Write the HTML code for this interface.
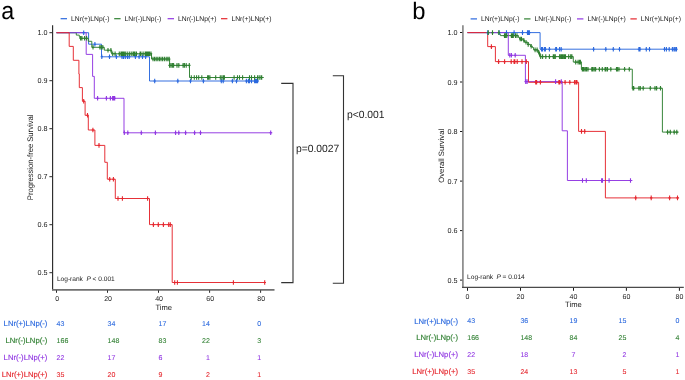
<!DOCTYPE html>
<html><head><meta charset="utf-8"><style>
html,body{margin:0;padding:0;background:#fff;}
body{width:685px;height:380px;overflow:hidden;}
svg{display:block;font-family:"Liberation Sans", sans-serif;will-change:transform;text-rendering:geometricPrecision;}
</style></head><body>
<svg width="685" height="380" viewBox="0 0 685 380">
<rect width="685" height="380" fill="#fff"/>
<text x="0" y="0" font-size="24.5" fill="#000" transform="translate(1.2,18.8) scale(0.95,1)">a</text>
<line x1="60.6" y1="18.7" x2="67.0" y2="18.7" stroke="#2a68de" stroke-width="1.2"/>
<text x="71.0" y="21.2" font-size="6.75" fill="#1a1a1a" text-anchor="start" >LNr(+)LNp(-)</text>
<line x1="114.2" y1="18.7" x2="120.6" y2="18.7" stroke="#2e7f30" stroke-width="1.2"/>
<text x="124.6" y="21.2" font-size="6.75" fill="#1a1a1a" text-anchor="start" >LNr(-)LNp(-)</text>
<line x1="167.6" y1="18.7" x2="174.0" y2="18.7" stroke="#9036e2" stroke-width="1.2"/>
<text x="178.0" y="21.2" font-size="6.75" fill="#1a1a1a" text-anchor="start" >LNr(-)LNp(+)</text>
<line x1="221.0" y1="18.7" x2="227.4" y2="18.7" stroke="#e5262d" stroke-width="1.2"/>
<text x="231.4" y="21.2" font-size="6.75" fill="#1a1a1a" text-anchor="start" >LNr(+)LNp(+)</text>
<line x1="52.6" y1="25.3" x2="52.6" y2="290.3" stroke="#2a2a2a" stroke-width="1.15"/>
<line x1="52.0" y1="289.8" x2="274.5" y2="289.8" stroke="#707070" stroke-width="1.7"/>
<line x1="49.4" y1="32.7" x2="52.2" y2="32.7" stroke="#2a2a2a" stroke-width="1"/>
<text x="47.6" y="35.3" font-size="7.2" fill="#1a1a1a" text-anchor="end" >1.0</text>
<line x1="49.4" y1="80.7" x2="52.2" y2="80.7" stroke="#2a2a2a" stroke-width="1"/>
<text x="47.6" y="83.3" font-size="7.2" fill="#1a1a1a" text-anchor="end" >0.9</text>
<line x1="49.4" y1="128.7" x2="52.2" y2="128.7" stroke="#2a2a2a" stroke-width="1"/>
<text x="47.6" y="131.3" font-size="7.2" fill="#1a1a1a" text-anchor="end" >0.8</text>
<line x1="49.4" y1="176.7" x2="52.2" y2="176.7" stroke="#2a2a2a" stroke-width="1"/>
<text x="47.6" y="179.3" font-size="7.2" fill="#1a1a1a" text-anchor="end" >0.7</text>
<line x1="49.4" y1="224.7" x2="52.2" y2="224.7" stroke="#2a2a2a" stroke-width="1"/>
<text x="47.6" y="227.3" font-size="7.2" fill="#1a1a1a" text-anchor="end" >0.6</text>
<line x1="49.4" y1="272.7" x2="52.2" y2="272.7" stroke="#2a2a2a" stroke-width="1"/>
<text x="47.6" y="275.3" font-size="7.2" fill="#1a1a1a" text-anchor="end" >0.5</text>
<line x1="56.5" y1="290.3" x2="56.5" y2="292.8" stroke="#2a2a2a" stroke-width="1"/>
<text x="57.1" y="301.1" font-size="7.0" fill="#1a1a1a" text-anchor="middle" >0</text>
<line x1="107.5" y1="290.3" x2="107.5" y2="292.8" stroke="#2a2a2a" stroke-width="1"/>
<text x="108.1" y="301.1" font-size="7.0" fill="#1a1a1a" text-anchor="middle" >20</text>
<line x1="158.5" y1="290.3" x2="158.5" y2="292.8" stroke="#2a2a2a" stroke-width="1"/>
<text x="159.1" y="301.1" font-size="7.0" fill="#1a1a1a" text-anchor="middle" >40</text>
<line x1="209.6" y1="290.3" x2="209.6" y2="292.8" stroke="#2a2a2a" stroke-width="1"/>
<text x="210.2" y="301.1" font-size="7.0" fill="#1a1a1a" text-anchor="middle" >60</text>
<line x1="260.6" y1="290.3" x2="260.6" y2="292.8" stroke="#2a2a2a" stroke-width="1"/>
<text x="261.2" y="301.1" font-size="7.0" fill="#1a1a1a" text-anchor="middle" >80</text>
<text x="163.7" y="310.0" font-size="7.6" fill="#1a1a1a" text-anchor="middle" >Time</text>
<text x="0" y="0" font-size="8.0" fill="#1a1a1a" text-anchor="middle" textLength="85.6" lengthAdjust="spacingAndGlyphs" transform="translate(33.1,157.4) rotate(-90)">Progression-free Survival</text>
<text x="56.9" y="281.0" font-size="6.6" fill="#1a1a1a">Log-rank<tspan x="86.4" font-style="italic">P</tspan><tspan x="92.6">&lt; 0.001</tspan></text>
<path d="M281.2,83.4H293V282.6H281.2" fill="none" stroke="#333" stroke-width="1.1"/>
<path d="M332.8,75.7H343.5V283.2H332.8" fill="none" stroke="#333" stroke-width="1.1"/>
<text x="295.9" y="152.3" font-size="10.5" fill="#1a1a1a" text-anchor="start" textLength="43.4" lengthAdjust="spacingAndGlyphs">p=0.0027</text>
<text x="346.9" y="117.8" font-size="10.5" fill="#1a1a1a" text-anchor="start" textLength="37.7" lengthAdjust="spacingAndGlyphs">p&lt;0.001</text>
<path d="M56.5,32.7 L88.6,32.7 L88.6,44.2 L101.5,44.2 L101.5,56.8 L149.5,56.8 L149.5,81.0 L258.6,81.0" fill="none" stroke="#2a68de" stroke-width="0.95"/>
<path d="M56.5,32.7 L76.3,32.7 L76.3,35.1 L79.3,35.1 L79.3,36.7 L79.9,36.7 L79.9,38.3 L88.3,38.3 L88.3,41.3 L91.8,41.3 L91.8,47.3 L104.3,47.3 L104.3,50.2 L111.6,50.2 L111.6,53.8 L151.5,53.8 L151.5,59.0 L169.6,59.0 L169.6,65.4 L189.5,65.4 L189.5,77.5 L263.8,77.5" fill="none" stroke="#2e7f30" stroke-width="0.95"/>
<path d="M56.5,32.7 L86.2,32.7 L86.2,54.4 L92.6,54.4 L92.6,76.4 L94.3,76.4 L94.3,98.3 L124.0,98.3 L124.0,132.8 L272.3,132.8" fill="none" stroke="#9036e2" stroke-width="0.95"/>
<path d="M56.5,32.7 L69.2,32.7 L69.2,46.4 L73.3,46.4 L73.3,60.3 L78.9,60.3 L78.9,74.0 L79.3,74.0 L79.3,87.6 L82.4,87.6 L82.4,101.2 L85.1,101.2 L85.1,115.3 L88.3,115.3 L88.3,130.0 L94.9,130.0 L94.9,145.4 L104.8,145.4 L104.8,162.3 L107.3,162.3 L107.3,179.2 L115.3,179.2 L115.3,198.5 L149.5,198.5 L149.5,224.6 L172.2,224.6 L172.2,282.5 L265.5,282.5" fill="none" stroke="#e5262d" stroke-width="0.95"/>
<path d="M83.7,30.4V35.0M82.5,32.7H84.9M94.9,41.9V46.5M93.7,44.2H96.1M101.8,54.5V59.1M100.6,56.8H103.0M109.5,54.5V59.1M108.3,56.8H110.7M116.4,54.5V59.1M115.2,56.8H117.6M122.0,54.5V59.1M120.8,56.8H123.2M123.5,54.5V59.1M122.3,56.8H124.7M125.3,54.5V59.1M124.1,56.8H126.5M127.5,54.5V59.1M126.3,56.8H128.7M129.2,54.5V59.1M128.0,56.8H130.4M135.4,54.5V59.1M134.2,56.8H136.6M139.1,54.5V59.1M137.9,56.8H140.3M142.5,54.5V59.1M141.3,56.8H143.7M145.6,54.5V59.1M144.4,56.8H146.8M154.7,78.7V83.3M153.5,81.0H155.9M177.8,78.7V83.3M176.6,81.0H179.0M190.5,78.7V83.3M189.3,81.0H191.7M203.4,78.7V83.3M202.2,81.0H204.6M221.3,78.7V83.3M220.1,81.0H222.5M223.2,78.7V83.3M222.0,81.0H224.4M232.4,78.7V83.3M231.2,81.0H233.6M236.5,78.7V83.3M235.3,81.0H237.7M246.4,78.7V83.3M245.2,81.0H247.6M248.4,78.7V83.3M247.2,81.0H249.6M249.5,78.7V83.3M248.3,81.0H250.7M251.5,78.7V83.3M250.3,81.0H252.7M254.6,78.7V83.3M253.4,81.0H255.8M255.6,78.7V83.3M254.4,81.0H256.8M256.6,78.7V83.3M255.4,81.0H257.8M257.6,78.7V83.3M256.4,81.0H258.8" fill="none" stroke="#2a68de" stroke-width="1.1"/>
<path d="M80.6,36.0V40.6M79.4,38.3H81.8M81.9,36.0V40.6M80.7,38.3H83.1M84.6,36.0V40.6M83.4,38.3H85.8M86.6,36.0V40.6M85.4,38.3H87.8M93.0,45.0V49.6M91.8,47.3H94.2M99.9,45.0V49.6M98.7,47.3H101.1M101.3,45.0V49.6M100.1,47.3H102.5M102.8,45.0V49.6M101.6,47.3H104.0M108.0,47.9V52.5M106.8,50.2H109.2M110.9,47.9V52.5M109.7,50.2H112.1M112.7,51.5V56.1M111.5,53.8H113.9M115.1,51.5V56.1M113.9,53.8H116.3M119.3,51.5V56.1M118.1,53.8H120.5M121.0,51.5V56.1M119.8,53.8H122.2M122.0,51.5V56.1M120.8,53.8H123.2M123.0,51.5V56.1M121.8,53.8H124.2M124.1,51.5V56.1M122.9,53.8H125.3M125.3,51.5V56.1M124.1,53.8H126.5M127.2,51.5V56.1M126.0,53.8H128.4M129.3,51.5V56.1M128.1,53.8H130.5M131.2,51.5V56.1M130.0,53.8H132.4M133.0,51.5V56.1M131.8,53.8H134.2M134.0,51.5V56.1M132.8,53.8H135.2M135.0,51.5V56.1M133.8,53.8H136.2M136.5,51.5V56.1M135.3,53.8H137.7M140.1,51.5V56.1M138.9,53.8H141.3M140.9,51.5V56.1M139.7,53.8H142.1M143.1,51.5V56.1M141.9,53.8H144.3M145.2,51.5V56.1M144.0,53.8H146.4M146.3,51.5V56.1M145.1,53.8H147.5M147.4,51.5V56.1M146.2,53.8H148.6M148.5,51.5V56.1M147.3,53.8H149.7M149.6,51.5V56.1M148.4,53.8H150.8M151.0,51.5V56.1M149.8,53.8H152.2M153.0,56.7V61.3M151.8,59.0H154.2M154.6,56.7V61.3M153.4,59.0H155.8M156.2,56.7V61.3M155.0,59.0H157.4M157.8,56.7V61.3M156.6,59.0H159.0M159.4,56.7V61.3M158.2,59.0H160.6M161.0,56.7V61.3M159.8,59.0H162.2M162.6,56.7V61.3M161.4,59.0H163.8M164.4,56.7V61.3M163.2,59.0H165.6M166.2,56.7V61.3M165.0,59.0H167.4M167.8,56.7V61.3M166.6,59.0H169.0M169.2,56.7V61.3M168.0,59.0H170.4M169.6,63.1V67.7M168.4,65.4H170.8M171.0,63.1V67.7M169.8,65.4H172.2M172.4,63.1V67.7M171.2,65.4H173.6M173.6,63.1V67.7M172.4,65.4H174.8M177.0,63.1V67.7M175.8,65.4H178.2M178.8,63.1V67.7M177.6,65.4H180.0M183.1,63.1V67.7M181.9,65.4H184.3M184.4,63.1V67.7M183.2,65.4H185.6M186.2,63.1V67.7M185.0,65.4H187.4M189.3,63.1V67.7M188.1,65.4H190.5M191.3,75.2V79.8M190.1,77.5H192.5M194.3,75.2V79.8M193.1,77.5H195.5M196.6,75.2V79.8M195.4,77.5H197.8M198.7,75.2V79.8M197.5,77.5H199.9M201.8,75.2V79.8M200.6,77.5H203.0M207.6,75.2V79.8M206.4,77.5H208.8M208.6,75.2V79.8M207.4,77.5H209.8M209.9,75.2V79.8M208.7,77.5H211.1M215.7,75.2V79.8M214.5,77.5H216.9M220.3,75.2V79.8M219.1,77.5H221.5M221.9,75.2V79.8M220.7,77.5H223.1M223.4,75.2V79.8M222.2,77.5H224.6M224.4,75.2V79.8M223.2,77.5H225.6M234.1,75.2V79.8M232.9,77.5H235.3M237.5,75.2V79.8M236.3,77.5H238.7M239.5,75.2V79.8M238.3,77.5H240.7M242.6,75.2V79.8M241.4,77.5H243.8M249.5,75.2V79.8M248.3,77.5H250.7M251.5,75.2V79.8M250.3,77.5H252.7M254.6,75.2V79.8M253.4,77.5H255.8M257.6,75.2V79.8M256.4,77.5H258.8M259.2,75.2V79.8M258.0,77.5H260.4M261.0,75.2V79.8M259.8,77.5H262.2M261.7,75.2V79.8M260.5,77.5H262.9" fill="none" stroke="#2e7f30" stroke-width="1.1"/>
<path d="M97.6,96.0V100.6M96.4,98.3H98.8M106.4,96.0V100.6M105.2,98.3H107.6M110.4,96.0V100.6M109.2,98.3H111.6M112.6,96.0V100.6M111.4,98.3H113.8M113.7,96.0V100.6M112.5,98.3H114.9M114.7,96.0V100.6M113.5,98.3H115.9M124.3,130.5V135.1M123.1,132.8H125.5M127.8,130.5V135.1M126.6,132.8H129.0M141.3,130.5V135.1M140.1,132.8H142.5M155.4,130.5V135.1M154.2,132.8H156.6M175.6,130.5V135.1M174.4,132.8H176.8M178.8,130.5V135.1M177.6,132.8H180.0M185.6,130.5V135.1M184.4,132.8H186.8M194.6,130.5V135.1M193.4,132.8H195.8M200.5,130.5V135.1M199.3,132.8H201.7M270.7,130.5V135.1M269.5,132.8H271.9" fill="none" stroke="#9036e2" stroke-width="1.1"/>
<path d="M83.7,98.9V103.5M82.5,101.2H84.9M87.5,113.0V117.6M86.3,115.3H88.7M92.9,127.7V132.3M91.7,130.0H94.1M99.0,143.1V147.7M97.8,145.4H100.2M109.7,176.9V181.5M108.5,179.2H110.9M113.4,176.9V181.5M112.2,179.2H114.6M118.0,196.2V200.8M116.8,198.5H119.2M122.4,196.2V200.8M121.2,198.5H123.6M147.6,196.2V200.8M146.4,198.5H148.8M153.4,222.3V226.9M152.2,224.6H154.6M158.3,222.3V226.9M157.1,224.6H159.5M163.4,222.3V226.9M162.2,224.6H164.6M168.7,222.3V226.9M167.5,224.6H169.9M170.3,222.3V226.9M169.1,224.6H171.5M174.7,280.2V284.8M173.5,282.5H175.9M177.4,280.2V284.8M176.2,282.5H178.6M233.4,280.2V284.8M232.2,282.5H234.6M264.7,280.2V284.8M263.5,282.5H265.9" fill="none" stroke="#e5262d" stroke-width="1.1"/>
<text x="47.4" y="326.2" font-size="7.7" fill="#2a68de" stroke="#2a68de" stroke-width="0.15" text-anchor="end" >LNr(+)LNp(-)</text>
<text x="56.6" y="325.9" font-size="7.0" fill="#2a68de" stroke="#2a68de" stroke-width="0.08" text-anchor="start" >43</text>
<text x="107.6" y="325.9" font-size="7.0" fill="#2a68de" stroke="#2a68de" stroke-width="0.08" text-anchor="start" >34</text>
<text x="158.5" y="325.9" font-size="7.0" fill="#2a68de" stroke="#2a68de" stroke-width="0.08" text-anchor="start" >17</text>
<text x="209.9" y="325.9" font-size="7.0" fill="#2a68de" stroke="#2a68de" stroke-width="0.08" text-anchor="end" >14</text>
<text x="261.1" y="325.9" font-size="7.0" fill="#2a68de" stroke="#2a68de" stroke-width="0.08" text-anchor="end" >0</text>
<text x="47.4" y="343.1" font-size="7.7" fill="#2e7f30" stroke="#2e7f30" stroke-width="0.15" text-anchor="end" >LNr(-)LNp(-)</text>
<text x="56.6" y="342.8" font-size="7.0" fill="#2e7f30" stroke="#2e7f30" stroke-width="0.08" text-anchor="start" >166</text>
<text x="107.6" y="342.8" font-size="7.0" fill="#2e7f30" stroke="#2e7f30" stroke-width="0.08" text-anchor="start" >148</text>
<text x="158.5" y="342.8" font-size="7.0" fill="#2e7f30" stroke="#2e7f30" stroke-width="0.08" text-anchor="start" >83</text>
<text x="209.9" y="342.8" font-size="7.0" fill="#2e7f30" stroke="#2e7f30" stroke-width="0.08" text-anchor="end" >22</text>
<text x="261.1" y="342.8" font-size="7.0" fill="#2e7f30" stroke="#2e7f30" stroke-width="0.08" text-anchor="end" >3</text>
<text x="47.4" y="359.9" font-size="7.7" fill="#9036e2" stroke="#9036e2" stroke-width="0.15" text-anchor="end" >LNr(-)LNp(+)</text>
<text x="56.6" y="359.6" font-size="7.0" fill="#9036e2" stroke="#9036e2" stroke-width="0.08" text-anchor="start" >22</text>
<text x="107.6" y="359.6" font-size="7.0" fill="#9036e2" stroke="#9036e2" stroke-width="0.08" text-anchor="start" >17</text>
<text x="158.5" y="359.6" font-size="7.0" fill="#9036e2" stroke="#9036e2" stroke-width="0.08" text-anchor="start" >6</text>
<text x="209.9" y="359.6" font-size="7.0" fill="#9036e2" stroke="#9036e2" stroke-width="0.08" text-anchor="end" >1</text>
<text x="261.1" y="359.6" font-size="7.0" fill="#9036e2" stroke="#9036e2" stroke-width="0.08" text-anchor="end" >1</text>
<text x="47.4" y="376.8" font-size="7.7" fill="#e5262d" stroke="#e5262d" stroke-width="0.15" text-anchor="end" >LNr(+)LNp(+)</text>
<text x="56.6" y="376.5" font-size="7.0" fill="#e5262d" stroke="#e5262d" stroke-width="0.08" text-anchor="start" >35</text>
<text x="107.6" y="376.5" font-size="7.0" fill="#e5262d" stroke="#e5262d" stroke-width="0.08" text-anchor="start" >20</text>
<text x="158.5" y="376.5" font-size="7.0" fill="#e5262d" stroke="#e5262d" stroke-width="0.08" text-anchor="start" >9</text>
<text x="209.9" y="376.5" font-size="7.0" fill="#e5262d" stroke="#e5262d" stroke-width="0.08" text-anchor="end" >2</text>
<text x="261.1" y="376.5" font-size="7.0" fill="#e5262d" stroke="#e5262d" stroke-width="0.08" text-anchor="end" >1</text>
<text x="412.2" y="18.8" font-size="23.8" fill="#000" text-anchor="start" >b</text>
<line x1="470.6" y1="18.9" x2="477.0" y2="18.9" stroke="#2a68de" stroke-width="1.2"/>
<text x="481.0" y="21.4" font-size="6.75" fill="#1a1a1a" text-anchor="start" >LNr(+)LNp(-)</text>
<line x1="524.1" y1="18.9" x2="530.5" y2="18.9" stroke="#2e7f30" stroke-width="1.2"/>
<text x="534.5" y="21.4" font-size="6.75" fill="#1a1a1a" text-anchor="start" >LNr(-)LNp(-)</text>
<line x1="577.0" y1="18.9" x2="583.4" y2="18.9" stroke="#9036e2" stroke-width="1.2"/>
<text x="587.4" y="21.4" font-size="6.75" fill="#1a1a1a" text-anchor="start" >LNr(-)LNp(+)</text>
<line x1="630.4" y1="18.9" x2="636.8" y2="18.9" stroke="#e5262d" stroke-width="1.2"/>
<text x="640.8" y="21.4" font-size="6.75" fill="#1a1a1a" text-anchor="start" >LNr(+)LNp(+)</text>
<line x1="462.9" y1="25.2" x2="462.9" y2="288.0" stroke="#8a8a8a" stroke-width="1.7"/>
<line x1="462.0" y1="287.4" x2="683.8" y2="287.4" stroke="#4a4a4a" stroke-width="1.2"/>
<line x1="460.0" y1="32.5" x2="462.2" y2="32.5" stroke="#1a1a1a" stroke-width="1"/>
<text x="457.6" y="35.1" font-size="7.2" fill="#1a1a1a" text-anchor="end" >1.0</text>
<line x1="460.0" y1="82.0" x2="462.2" y2="82.0" stroke="#1a1a1a" stroke-width="1"/>
<text x="457.6" y="84.6" font-size="7.2" fill="#1a1a1a" text-anchor="end" >0.9</text>
<line x1="460.0" y1="131.5" x2="462.2" y2="131.5" stroke="#1a1a1a" stroke-width="1"/>
<text x="457.6" y="134.1" font-size="7.2" fill="#1a1a1a" text-anchor="end" >0.8</text>
<line x1="460.0" y1="181.1" x2="462.2" y2="181.1" stroke="#1a1a1a" stroke-width="1"/>
<text x="457.6" y="183.7" font-size="7.2" fill="#1a1a1a" text-anchor="end" >0.7</text>
<line x1="460.0" y1="230.6" x2="462.2" y2="230.6" stroke="#1a1a1a" stroke-width="1"/>
<text x="457.6" y="233.2" font-size="7.2" fill="#1a1a1a" text-anchor="end" >0.6</text>
<line x1="460.0" y1="280.1" x2="462.2" y2="280.1" stroke="#1a1a1a" stroke-width="1"/>
<text x="457.6" y="282.7" font-size="7.2" fill="#1a1a1a" text-anchor="end" >0.5</text>
<line x1="467.5" y1="288.0" x2="467.5" y2="290.8" stroke="#1a1a1a" stroke-width="1"/>
<text x="467.5" y="298.9" font-size="7.0" fill="#1a1a1a" text-anchor="middle" >0</text>
<line x1="520.5" y1="288.0" x2="520.5" y2="290.8" stroke="#1a1a1a" stroke-width="1"/>
<text x="520.5" y="298.9" font-size="7.0" fill="#1a1a1a" text-anchor="middle" >20</text>
<line x1="573.5" y1="288.0" x2="573.5" y2="290.8" stroke="#1a1a1a" stroke-width="1"/>
<text x="573.5" y="298.9" font-size="7.0" fill="#1a1a1a" text-anchor="middle" >40</text>
<line x1="626.4" y1="288.0" x2="626.4" y2="290.8" stroke="#1a1a1a" stroke-width="1"/>
<text x="626.4" y="298.9" font-size="7.0" fill="#1a1a1a" text-anchor="middle" >60</text>
<line x1="679.4" y1="288.0" x2="679.4" y2="290.8" stroke="#1a1a1a" stroke-width="1"/>
<text x="679.4" y="298.9" font-size="7.0" fill="#1a1a1a" text-anchor="middle" >80</text>
<text x="573.4" y="307.0" font-size="7.6" fill="#1a1a1a" text-anchor="middle" >Time</text>
<text x="0" y="0" font-size="7.7" fill="#1a1a1a" text-anchor="middle" transform="translate(443.8,155.8) rotate(-90)">Overall Survival</text>
<text x="467.1" y="278.9" font-size="6.6" fill="#1a1a1a">Log-rank<tspan x="496.4" font-style="italic">P</tspan><tspan x="502.6">= 0.014</tspan></text>
<path d="M467.5,32.6 L540.1,32.6 L540.1,49.2 L677.1,49.2" fill="none" stroke="#2a68de" stroke-width="0.95"/>
<path d="M467.5,32.6 L499.7,32.6 L499.7,34.3 L500.4,34.3 L500.4,35.6 L518.4,35.6 L518.4,37.5 L519.5,37.5 L519.5,39.0 L523.1,39.0 L523.1,40.3 L524.5,40.3 L524.5,42.2 L527.9,42.2 L527.9,44.4 L530.4,44.4 L530.4,46.3 L532.4,46.3 L532.4,47.5 L533.6,47.5 L533.6,49.9 L537.9,49.9 L537.9,52.2 L539.1,52.2 L539.1,53.8 L539.9,53.8 L539.9,56.6 L573.3,56.6 L573.3,62.1 L581.4,62.1 L581.4,69.2 L632.3,69.2 L632.3,88.2 L662.4,88.2 L662.4,132.1 L678.7,132.1" fill="none" stroke="#2e7f30" stroke-width="0.95"/>
<path d="M467.5,32.6 L508.3,32.6 L508.3,55.3 L525.4,55.3 L525.4,81.6 L562.2,81.6 L562.2,130.8 L567.4,130.8 L567.4,180.5 L632.4,180.5" fill="none" stroke="#9036e2" stroke-width="0.95"/>
<path d="M467.5,32.6 L487.7,32.6 L487.7,46.6 L495.4,46.6 L495.4,61.6 L528.5,61.6 L528.5,82.3 L578.6,82.3 L578.6,131.4 L605.4,131.4 L605.4,197.9 L679.1,197.9" fill="none" stroke="#e5262d" stroke-width="0.95"/>
<path d="M487.7,30.3V34.9M486.5,32.6H488.9M499.2,30.3V34.9M498.0,32.6H500.4M506.5,30.3V34.9M505.3,32.6H507.7M514.1,30.3V34.9M512.9,32.6H515.3M522.5,30.3V34.9M521.3,32.6H523.7M527.5,30.3V34.9M526.3,32.6H528.7M528.5,30.3V34.9M527.3,32.6H529.7M529.4,30.3V34.9M528.2,32.6H530.6M541.5,46.9V51.5M540.3,49.2H542.7M542.6,46.9V51.5M541.4,49.2H543.8M544.6,46.9V51.5M543.4,49.2H545.8M545.4,46.9V51.5M544.2,49.2H546.6M549.4,46.9V51.5M548.2,49.2H550.6M555.7,46.9V51.5M554.5,49.2H556.9M556.5,46.9V51.5M555.3,49.2H557.7M559.6,46.9V51.5M558.4,49.2H560.8M561.2,46.9V51.5M560.0,49.2H562.4M593.6,46.9V51.5M592.4,49.2H594.8M605.8,46.9V51.5M604.6,49.2H607.0M613.3,46.9V51.5M612.1,49.2H614.5M619.5,46.9V51.5M618.3,49.2H620.7M638.9,46.9V51.5M637.7,49.2H640.1M640.0,46.9V51.5M638.8,49.2H641.2M646.3,46.9V51.5M645.1,49.2H647.5M649.5,46.9V51.5M648.3,49.2H650.7M664.5,46.9V51.5M663.3,49.2H665.7M666.4,46.9V51.5M665.2,49.2H667.6M669.2,46.9V51.5M668.0,49.2H670.4M672.4,46.9V51.5M671.2,49.2H673.6M674.0,46.9V51.5M672.8,49.2H675.2M675.2,46.9V51.5M674.0,49.2H676.4M676.5,46.9V51.5M675.3,49.2H677.7" fill="none" stroke="#2a68de" stroke-width="1.1"/>
<path d="M488.3,30.3V34.9M487.1,32.6H489.5M492.5,30.3V34.9M491.3,32.6H493.7M498.8,30.3V34.9M497.6,32.6H500.0M504.5,33.3V37.9M503.3,35.6H505.7M505.4,33.3V37.9M504.2,35.6H506.6M506.7,33.3V37.9M505.5,35.6H507.9M511.4,33.3V37.9M510.2,35.6H512.6M512.4,33.3V37.9M511.2,35.6H513.6M513.3,33.3V37.9M512.1,35.6H514.5M515.5,33.3V37.9M514.3,35.6H516.7M517.0,33.3V37.9M515.8,35.6H518.2M520.2,36.7V41.3M519.0,39.0H521.4M521.5,36.7V41.3M520.3,39.0H522.7M523.8,38.0V42.6M522.6,40.3H525.0M526.0,39.9V44.5M524.8,42.2H527.2M528.2,42.1V46.7M527.0,44.4H529.4M531.2,44.0V48.6M530.0,46.3H532.4M535.1,47.6V52.2M533.9,49.9H536.3M537.1,47.6V52.2M535.9,49.9H538.3M538.7,49.9V54.5M537.5,52.2H539.9M539.5,51.5V56.1M538.3,53.8H540.7M540.7,54.3V58.9M539.5,56.6H541.9M542.6,54.3V58.9M541.4,56.6H543.8M545.8,54.3V58.9M544.6,56.6H547.0M549.4,54.3V58.9M548.2,56.6H550.6M553.3,54.3V58.9M552.1,56.6H554.5M554.1,54.3V58.9M552.9,56.6H555.3M555.3,54.3V58.9M554.1,56.6H556.5M559.6,54.3V58.9M558.4,56.6H560.8M560.8,54.3V58.9M559.6,56.6H562.0M561.6,54.3V58.9M560.4,56.6H562.8M562.4,54.3V58.9M561.2,56.6H563.6M563.2,54.3V58.9M562.0,56.6H564.4M564.4,54.3V58.9M563.2,56.6H565.6M565.5,54.3V58.9M564.3,56.6H566.7M568.7,54.3V58.9M567.5,56.6H569.9M570.7,54.3V58.9M569.5,56.6H571.9M571.9,54.3V58.9M570.7,56.6H573.1M575.7,59.8V64.4M574.5,62.1H576.9M578.1,59.8V64.4M576.9,62.1H579.3M579.5,59.8V64.4M578.3,62.1H580.7M580.4,59.8V64.4M579.2,62.1H581.6M582.3,66.9V71.5M581.1,69.2H583.5M583.3,66.9V71.5M582.1,69.2H584.5M584.2,66.9V71.5M583.0,69.2H585.4M585.7,66.9V71.5M584.5,69.2H586.9M586.6,66.9V71.5M585.4,69.2H587.8M588.0,66.9V71.5M586.8,69.2H589.2M591.8,66.9V71.5M590.6,69.2H593.0M592.8,66.9V71.5M591.6,69.2H594.0M594.2,66.9V71.5M593.0,69.2H595.4M595.6,66.9V71.5M594.4,69.2H596.8M599.4,66.9V71.5M598.2,69.2H600.6M602.3,66.9V71.5M601.1,69.2H603.5M605.1,66.9V71.5M603.9,69.2H606.3M606.0,66.9V71.5M604.8,69.2H607.2M607.5,66.9V71.5M606.3,69.2H608.7M610.8,66.9V71.5M609.6,69.2H612.0M616.5,66.9V71.5M615.3,69.2H617.7M617.4,66.9V71.5M616.2,69.2H618.6M618.9,66.9V71.5M617.7,69.2H620.1M624.6,66.9V71.5M623.4,69.2H625.8M629.3,66.9V71.5M628.1,69.2H630.5M632.9,85.9V90.5M631.7,88.2H634.1M633.7,85.9V90.5M632.5,88.2H634.9M638.9,85.9V90.5M637.7,88.2H640.1M640.3,85.9V90.5M639.1,88.2H641.5M643.2,85.9V90.5M642.0,88.2H644.4M650.3,85.9V90.5M649.1,88.2H651.5M655.0,85.9V90.5M653.8,88.2H656.2M656.6,85.9V90.5M655.4,88.2H657.8M660.5,85.9V90.5M659.3,88.2H661.7M667.6,129.8V134.4M666.4,132.1H668.8M670.3,129.8V134.4M669.1,132.1H671.5M674.2,129.8V134.4M673.0,132.1H675.4M676.8,129.8V134.4M675.6,132.1H678.0" fill="none" stroke="#2e7f30" stroke-width="1.1"/>
<path d="M509.8,53.0V57.6M508.6,55.3H511.0M511.4,53.0V57.6M510.2,55.3H512.6M515.2,53.0V57.6M514.0,55.3H516.4M525.7,79.3V83.9M524.5,81.6H526.9M527.1,79.3V83.9M525.9,81.6H528.3M555.6,79.3V83.9M554.4,81.6H556.8M561.3,79.3V83.9M560.1,81.6H562.5M582.5,178.2V182.8M581.3,180.5H583.7M586.3,178.2V182.8M585.1,180.5H587.5M601.6,178.2V182.8M600.4,180.5H602.8M602.5,178.2V182.8M601.3,180.5H603.7M609.1,178.2V182.8M607.9,180.5H610.3M630.5,178.2V182.8M629.3,180.5H631.7" fill="none" stroke="#9036e2" stroke-width="1.1"/>
<path d="M491.4,44.3V48.9M490.2,46.6H492.6M498.6,59.3V63.9M497.4,61.6H499.8M504.6,59.3V63.9M503.4,61.6H505.8M511.2,59.3V63.9M510.0,61.6H512.4M514.1,59.3V63.9M512.9,61.6H515.3M514.8,59.3V63.9M513.6,61.6H516.0M517.2,59.3V63.9M516.0,61.6H518.4M522.0,59.3V63.9M520.8,61.6H523.2M526.3,59.3V63.9M525.1,61.6H527.5M535.7,80.0V84.6M534.5,82.3H536.9M536.6,80.0V84.6M535.4,82.3H537.8M540.4,80.0V84.6M539.2,82.3H541.6M558.9,80.0V84.6M557.7,82.3H560.1M559.8,80.0V84.6M558.6,82.3H561.0M565.1,80.0V84.6M563.9,82.3H566.3M569.8,80.0V84.6M568.6,82.3H571.0M574.6,80.0V84.6M573.4,82.3H575.8M576.0,80.0V84.6M574.8,82.3H577.2M576.9,80.0V84.6M575.7,82.3H578.1M581.5,129.1V133.7M580.3,131.4H582.7M584.7,129.1V133.7M583.5,131.4H585.9M635.7,195.6V200.2M634.5,197.9H636.9M651.2,195.6V200.2M650.0,197.9H652.4M669.6,195.6V200.2M668.4,197.9H670.8M677.5,195.6V200.2M676.3,197.9H678.7" fill="none" stroke="#e5262d" stroke-width="1.1"/>
<text x="458.0" y="323.6" font-size="7.7" fill="#2a68de" stroke="#2a68de" stroke-width="0.15" text-anchor="end" >LNr(+)LNp(-)</text>
<text x="467.3" y="323.3" font-size="7.0" fill="#2a68de" stroke="#2a68de" stroke-width="0.08" text-anchor="start" >43</text>
<text x="520.4" y="323.3" font-size="7.0" fill="#2a68de" stroke="#2a68de" stroke-width="0.08" text-anchor="start" >36</text>
<text x="573.5" y="323.3" font-size="7.0" fill="#2a68de" stroke="#2a68de" stroke-width="0.08" text-anchor="middle" >19</text>
<text x="626.4" y="323.3" font-size="7.0" fill="#2a68de" stroke="#2a68de" stroke-width="0.08" text-anchor="end" >15</text>
<text x="679.4" y="323.3" font-size="7.0" fill="#2a68de" stroke="#2a68de" stroke-width="0.08" text-anchor="end" >0</text>
<text x="458.0" y="340.4" font-size="7.7" fill="#2e7f30" stroke="#2e7f30" stroke-width="0.15" text-anchor="end" >LNr(-)LNp(-)</text>
<text x="467.3" y="340.1" font-size="7.0" fill="#2e7f30" stroke="#2e7f30" stroke-width="0.08" text-anchor="start" >166</text>
<text x="520.4" y="340.1" font-size="7.0" fill="#2e7f30" stroke="#2e7f30" stroke-width="0.08" text-anchor="start" >148</text>
<text x="573.5" y="340.1" font-size="7.0" fill="#2e7f30" stroke="#2e7f30" stroke-width="0.08" text-anchor="middle" >84</text>
<text x="626.4" y="340.1" font-size="7.0" fill="#2e7f30" stroke="#2e7f30" stroke-width="0.08" text-anchor="end" >25</text>
<text x="679.4" y="340.1" font-size="7.0" fill="#2e7f30" stroke="#2e7f30" stroke-width="0.08" text-anchor="end" >4</text>
<text x="458.0" y="357.2" font-size="7.7" fill="#9036e2" stroke="#9036e2" stroke-width="0.15" text-anchor="end" >LNr(-)LNp(+)</text>
<text x="467.3" y="356.9" font-size="7.0" fill="#9036e2" stroke="#9036e2" stroke-width="0.08" text-anchor="start" >22</text>
<text x="520.4" y="356.9" font-size="7.0" fill="#9036e2" stroke="#9036e2" stroke-width="0.08" text-anchor="start" >18</text>
<text x="573.5" y="356.9" font-size="7.0" fill="#9036e2" stroke="#9036e2" stroke-width="0.08" text-anchor="middle" >7</text>
<text x="626.4" y="356.9" font-size="7.0" fill="#9036e2" stroke="#9036e2" stroke-width="0.08" text-anchor="end" >2</text>
<text x="679.4" y="356.9" font-size="7.0" fill="#9036e2" stroke="#9036e2" stroke-width="0.08" text-anchor="end" >1</text>
<text x="458.0" y="373.8" font-size="7.7" fill="#e5262d" stroke="#e5262d" stroke-width="0.15" text-anchor="end" >LNr(+)LNp(+)</text>
<text x="467.3" y="373.5" font-size="7.0" fill="#e5262d" stroke="#e5262d" stroke-width="0.08" text-anchor="start" >35</text>
<text x="520.4" y="373.5" font-size="7.0" fill="#e5262d" stroke="#e5262d" stroke-width="0.08" text-anchor="start" >24</text>
<text x="573.5" y="373.5" font-size="7.0" fill="#e5262d" stroke="#e5262d" stroke-width="0.08" text-anchor="middle" >13</text>
<text x="626.4" y="373.5" font-size="7.0" fill="#e5262d" stroke="#e5262d" stroke-width="0.08" text-anchor="end" >5</text>
<text x="679.4" y="373.5" font-size="7.0" fill="#e5262d" stroke="#e5262d" stroke-width="0.08" text-anchor="end" >1</text>
</svg>
</body></html>
